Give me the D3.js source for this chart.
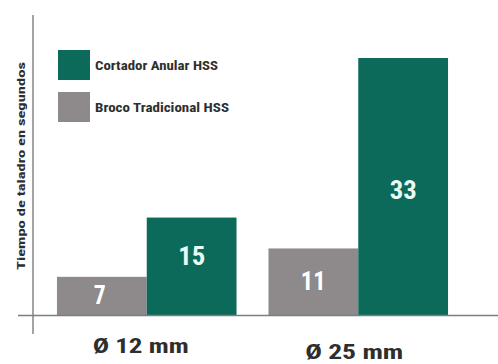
<!DOCTYPE html>
<html><head><meta charset="utf-8">
<script src="https://cdn.jsdelivr.net/npm/d3@7"></script>
<style>html,body{margin:0;padding:0;background:#fff;}svg{display:block;}
text{font-family:"Liberation Sans Narrow","Arial Narrow","Roboto Condensed","Liberation Sans",sans-serif;font-weight:bold;}</style>
</head><body><svg id="c" width="498" height="364"></svg>
<script>
const categories = ["Ø 12 mm", "Ø 25 mm"];
const seriesNames = ["Broco Tradicional HSS", "Cortador Anular HSS"];
const brocoValues = [7, 11];
const cortadorValues = [15, 33];
const legendOrder = ["Cortador Anular HSS", "Broco Tradicional HSS"];
const yTitle = "Tiempo de taladro en segundos";
const colors = {"Cortador Anular HSS": "#0c6a5a", "Broco Tradicional HSS": "#8e8a8b"};

const svg = d3.select("#c");
const baseY = 315;
const x = d3.scaleBand().domain(categories).range([41, 464]).paddingInner(0.151).paddingOuter(0.0755);
const xs = d3.scaleBand().domain(seriesNames).range([0, x.bandwidth()]);
const y = d3.scalePow().exponent(1.23).domain([0, 33]).range([baseY, 58]);

const data = [];
categories.forEach((c, i) => {
  data.push({cat: c, s: seriesNames[0], v: brocoValues[i]});
  data.push({cat: c, s: seriesNames[1], v: cortadorValues[i]});
});

svg.selectAll("rect.bar").data(data).join("rect").attr("class", "bar")
  .attr("x", d => x(d.cat) + xs(d.s))
  .attr("width", xs.bandwidth())
  .attr("y", d => y(d.v))
  .attr("height", d => baseY - y(d.v))
  .attr("fill", d => colors[d.s]);

const lblW = {"7": 12, "11": 25, "15": 27, "33": 27};
svg.selectAll("text.val").data(data).join("text").attr("class", "val")
  .attr("x", d => x(d.cat) + xs(d.s) + xs.bandwidth() / 2 + (d.v === 7 ? -2 : 0))
  .attr("y", d => d.v === 33 ? 199 : (y(d.v) + baseY) / 2 + (d.v === 15 ? -1 : 8))
  .attr("text-anchor", "middle")
  .attr("font-size", 25)
  .attr("fill", d => d.s === seriesNames[1] ? "#e8fbf5" : "#ffffff")
  .attr("textLength", d => lblW[d.v])
  .attr("lengthAdjust", "spacingAndGlyphs")
  .text(d => d.v);

// axes lines
svg.append("line").attr("x1", 18).attr("x2", 498).attr("y1", baseY + 0.5).attr("y2", baseY + 0.5)
  .attr("stroke", "#7d7d7d").attr("stroke-width", 1.6);
svg.append("line").attr("x1", 33).attr("x2", 33).attr("y1", 15).attr("y2", 334)
  .attr("stroke", "#7d7d7d").attr("stroke-width", 1.4);

// category labels
const catW = [96, 98];
const catY = [353, 359];
svg.selectAll("text.cat").data(categories).join("text").attr("class", "cat")
  .attr("x", (d, i) => x(d) + x.bandwidth() / 2 + (i === 0 ? -6 : -4))
  .attr("y", (d, i) => catY[i])
  .attr("text-anchor", "middle")
  .attr("font-size", 21)
  .attr("fill", "#2e2e2e")
  .attr("textLength", (d, i) => catW[i])
  .attr("lengthAdjust", "spacingAndGlyphs")
  .text(d => d);

// y title
svg.append("text")
  .attr("transform", "translate(25,166) rotate(-90)")
  .attr("text-anchor", "middle")
  .attr("font-size", 11)
  .attr("fill", "#2e2e2e")
  .attr("textLength", 208)
  .attr("lengthAdjust", "spacingAndGlyphs")
  .text(yTitle);

// legend
const legW = [123, 134];
const lg = svg.selectAll("g.leg").data(legendOrder).join("g").attr("class", "leg")
  .attr("transform", (d, i) => `translate(58,${50 + i * 42})`);
lg.append("rect").attr("width", 32).attr("height", 30).attr("fill", d => colors[d]);
lg.append("text").attr("x", 37).attr("y", 19.5).attr("font-size", 12).attr("fill", "#2e2e2e")
  .attr("textLength", (d, i) => legW[i]).attr("lengthAdjust", "spacingAndGlyphs")
  .text(d => d);
</script></body></html>
